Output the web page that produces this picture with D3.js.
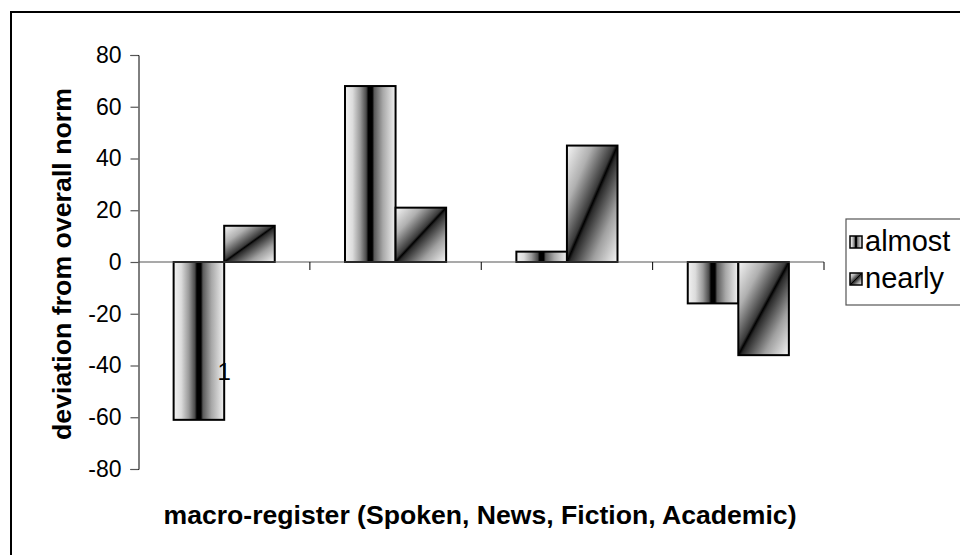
<!DOCTYPE html>
<meta charset="utf-8">
<script src="https://d3js.org/d3.v7.min.js"></script>
<style>
  body { margin: 0; background: #fff; }
  text { font-family: "Liberation Sans", Arial, sans-serif; }
</style>
<body>
<div id="chart"></div>
<script>
// values
var categories = ["Spoken", "News", "Fiction", "Academic"];
var seriesNames = ["almost", "nearly"];
var almostValues = [-61, 68, 4, -16];
var nearlyValues = [14, 21, 45, -36];
var yTicks = [80, 60, 40, 20, 0, -20, -40, -60, -80];

var W = 960, H = 555;
var plot = {left: 138.5, right: 824, top: 55, bottom: 469};

var svg = d3.select("#chart").append("svg")
  .attr("width", W)
  .attr("height", H);

// fills
var defs = svg.append("defs");
var g1 = defs.append("linearGradient").attr("id", "fillAlmost")
  .attr("x1", 0).attr("y1", 0).attr("x2", 1).attr("y2", 0);
[[0, "#f2f2f2"], [0.15, "#dcdcdc"], [0.3, "#9a9a9a"], [0.42, "#4a4a4a"], [0.46, "#000"],
 [0.54, "#000"], [0.58, "#5a5a5a"], [0.75, "#a8a8a8"], [1, "#f2f2f2"]].forEach(function(s) {
  g1.append("stop").attr("offset", s[0]).attr("stop-color", s[1]);
});
var g2 = defs.append("linearGradient").attr("id", "fillNearly")
  .attr("x1", 0).attr("y1", 0).attr("x2", 1).attr("y2", 1);
[[0, "#f6f6f6"], [0.25, "#b0b0b0"], [0.47, "#3a3a3a"], [0.5, "#000"],
 [0.53, "#2a2a2a"], [0.75, "#a0a0a0"], [1, "#f6f6f6"]].forEach(function(s) {
  g2.append("stop").attr("offset", s[0]).attr("stop-color", s[1]);
});
var fills = {almost: "url(#fillAlmost)", nearly: "url(#fillNearly)"};

// outer frame
svg.append("rect")
  .attr("x", 11).attr("y", 12)
  .attr("width", 970).attr("height", 570)
  .attr("fill", "none")
  .attr("stroke", "#000")
  .attr("stroke-width", 2);

var x0 = d3.scaleBand()
  .domain(categories)
  .range([plot.left, plot.right])
  .paddingInner(0.41)
  .paddingOuter(0.205);
var x1 = d3.scaleBand()
  .domain(seriesNames)
  .range([0, x0.bandwidth()]);
var y = d3.scaleLinear()
  .domain([-80, 80])
  .range([plot.bottom, plot.top]);

// Y axis
var yAxis = svg.append("g")
  .attr("transform", "translate(" + plot.left + ",0)")
  .call(d3.axisLeft(y).tickValues(yTicks).tickSize(8).tickPadding(9)
    .tickFormat(function(d) { return String(d); }));
yAxis.select(".domain").attr("stroke", "#000").attr("stroke-width", 1);
yAxis.selectAll(".tick line").attr("stroke", "#555").attr("stroke-width", 1.2);
yAxis.selectAll("text")
  .attr("fill", "#000")
  .style("font-family", "'Liberation Sans', Arial, sans-serif")
  .style("font-size", "23px");

// bars
var rows = categories.map(function(c, i) {
  return {cat: c, vals: [{k: "almost", v: almostValues[i]}, {k: "nearly", v: nearlyValues[i]}]};
});
var grp = svg.append("g").selectAll("g")
  .data(rows).enter().append("g")
  .attr("transform", function(d) { return "translate(" + x0(d.cat) + ",0)"; });
grp.selectAll("rect")
  .data(function(d) { return d.vals; })
  .enter().append("rect")
  .attr("x", function(d) { return x1(d.k); })
  .attr("width", x1.bandwidth())
  .attr("y", function(d) { return y(Math.max(0, d.v)); })
  .attr("height", function(d) { return Math.abs(y(d.v) - y(0)); })
  .attr("fill", function(d) { return fills[d.k]; })
  .attr("stroke", "#000")
  .attr("stroke-width", 2);

// category axis at zero
var xStep = (plot.right - plot.left) / categories.length;
svg.append("line")
  .attr("x1", plot.left).attr("x2", plot.right)
  .attr("y1", y(0)).attr("y2", y(0))
  .attr("stroke", "#555").attr("stroke-width", 1.2);
svg.append("g").selectAll("line")
  .data(d3.range(1, categories.length + 1))
  .enter().append("line")
  .attr("x1", function(i) { return plot.left + i * xStep; })
  .attr("x2", function(i) { return plot.left + i * xStep; })
  .attr("y1", y(0)).attr("y2", y(0) + 8)
  .attr("stroke", "#000").attr("stroke-width", 1);

// stray category label
svg.append("text")
  .attr("x", x0(categories[0]) + x0.bandwidth() / 2)
  .attr("y", 380)
  .attr("text-anchor", "middle")
  .style("font-size", "24px")
  .text("1");

// axis titles
svg.append("text")
  .attr("x", 480).attr("y", 524)
  .attr("text-anchor", "middle")
  .attr("textLength", 633)
  .attr("lengthAdjust", "spacingAndGlyphs")
  .style("font-size", "25px")
  .style("font-weight", "bold")
  .text("macro-register (Spoken, News, Fiction, Academic)");
svg.append("text")
  .attr("transform", "translate(71,264) rotate(-90)")
  .attr("text-anchor", "middle")
  .attr("textLength", 352)
  .attr("lengthAdjust", "spacingAndGlyphs")
  .style("font-size", "25px")
  .style("font-weight", "bold")
  .text("deviation from overall norm");

// legend
var legend = svg.append("g");
legend.append("rect")
  .attr("x", 846).attr("y", 219)
  .attr("width", 130).attr("height", 86)
  .attr("fill", "#fff")
  .attr("stroke", "#555").attr("stroke-width", 1.2);
var li = legend.selectAll("g.item")
  .data(seriesNames).enter().append("g")
  .attr("class", "item")
  .attr("transform", function(d, i) { return "translate(850," + (236 + i * 37) + ")"; });
li.append("rect")
  .attr("width", 12).attr("height", 12)
  .attr("fill", function(d) { return fills[d]; })
  .attr("stroke", "#000").attr("stroke-width", 1.5);
li.append("text")
  .attr("x", 15).attr("y", 15)
  .style("font-size", "29px")
  .text(function(d) { return d; });
</script>
</body>
